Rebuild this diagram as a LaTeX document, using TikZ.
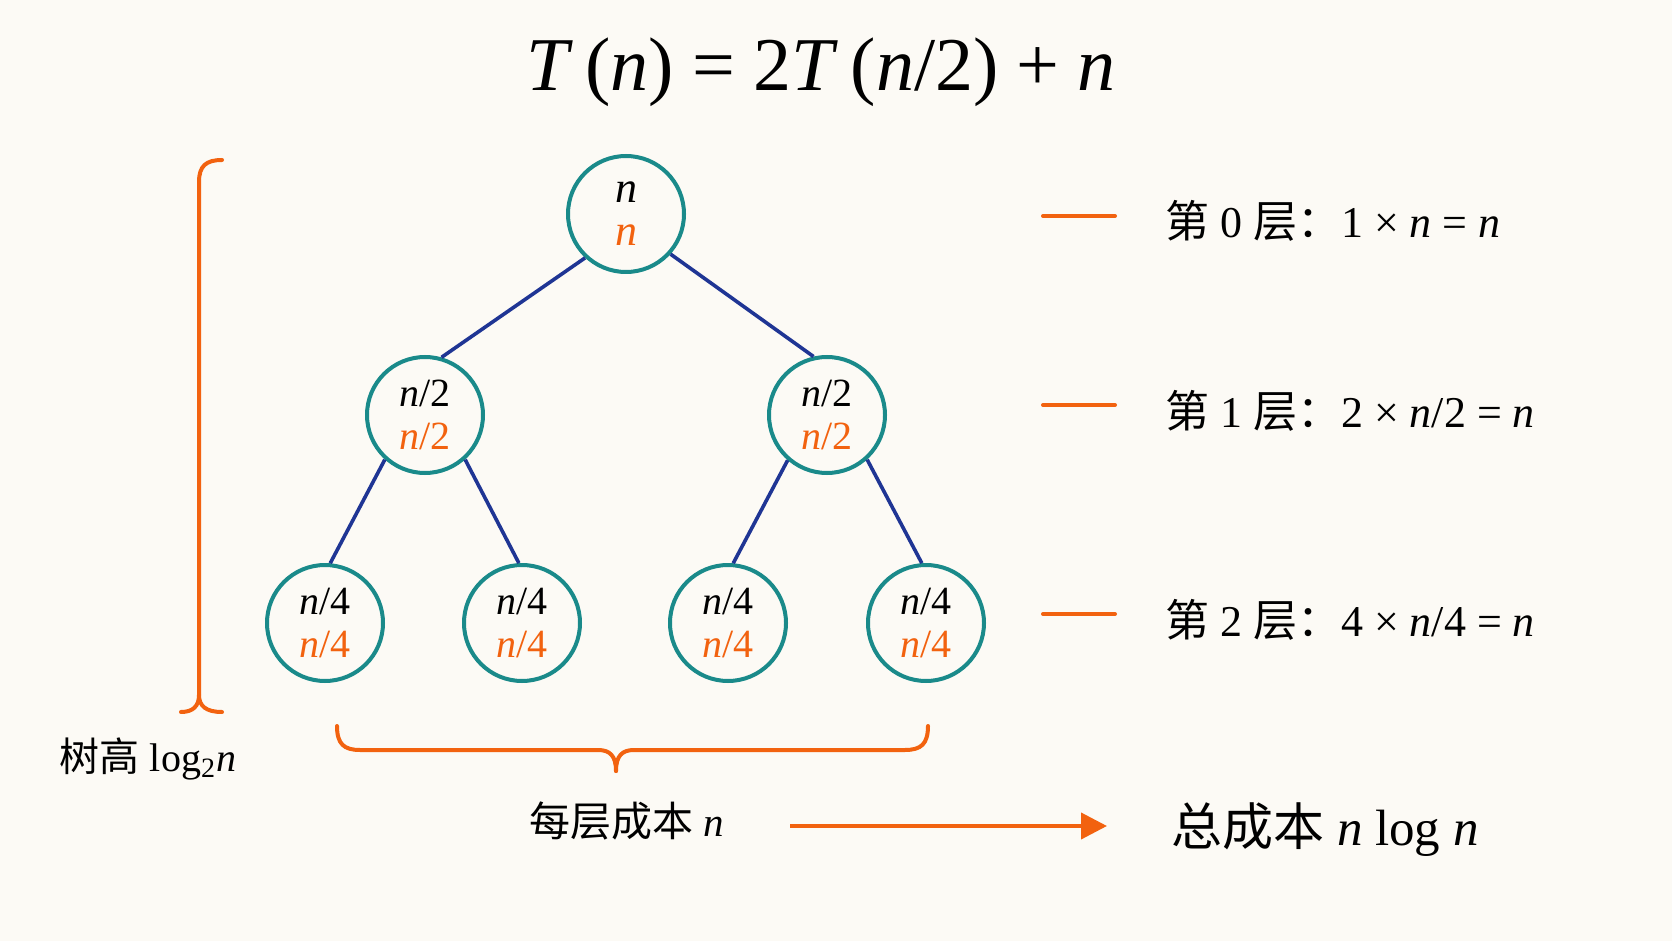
\documentclass[tikz,border=0pt]{standalone}
\usepackage{fontspec}
\setmainfont{Liberation Serif}
\newfontfamily\cjk{Noto Sans CJK SC}
\usetikzlibrary{arrows.meta}
\definecolor{bg}{HTML}{FCFAF5}
\definecolor{org}{HTML}{F2620F}
\definecolor{tealc}{HTML}{1A8A8A}
\definecolor{navy}{HTML}{1F3594}
\newcommand{\vi}[1]{\textit{#1}}
\newcommand{\two}[1]{#1\\\textcolor{org}{#1}}
\newcommand{\msp}{\hspace{0.24em}}
\begin{document}
\begin{tikzpicture}[x=0.5pt,y=-0.5pt,
  tnode/.style={circle,draw=tealc,line width=2pt,minimum size=58pt,inner sep=0pt,
    align=center,font=\fontsize{20}{21.5}\selectfont},
  edge/.style={draw=navy,line width=1.8pt},
  orn/.style={draw=org,line width=2pt,line cap=round},
  lvl/.style={anchor=west,font=\fontsize{22}{24}\selectfont},
  txt/.style={font=\fontsize{20}{22}\selectfont}]
\fill[bg] (0,0) rectangle (1672,941);
\useasboundingbox (0,0) rectangle (1672,941);

% title
\node[font=\fontsize{38}{44}\selectfont] (title) at (821,72)
  {\vi{T}\,(\vi{n})\msp=\msp2\vi{T}\,(\vi{n}/2)\msp+\msp\vi{n}};

% tree
\node[tnode,font=\fontsize{22}{21.5}\selectfont,yshift=0pt] (r) at (626,214)
  {\two{\vi{n}}};
\node[tnode] (a) at (425,415) {\two{\vi{n}/2}};
\node[tnode] (b) at (827,415) {\two{\vi{n}/2}};
\node[tnode] (a1) at (325,623) {\two{\vi{n}/4}};
\node[tnode] (a2) at (522,623) {\two{\vi{n}/4}};
\node[tnode] (b1) at (728,623) {\two{\vi{n}/4}};
\node[tnode] (b2) at (926,623) {\two{\vi{n}/4}};
\draw[edge] (r.227) -- (a.74);
\draw[edge] (r.318) -- (b.103);
\draw[edge] (a.228) -- (a1.85);
\draw[edge] (a.312) -- (a2.93);
\draw[edge] (b.229) -- (b1.85);
\draw[edge] (b.312) -- (b2.94);

% level marks
\coordinate (m0a) at (1043,216); \coordinate (m0b) at (1115,216);
\coordinate (m1a) at (1043,405); \coordinate (m1b) at (1115,405);
\coordinate (m2a) at (1043,614); \coordinate (m2b) at (1115,614);
\draw[orn] (m0a) -- (m0b);
\draw[orn] (m1a) -- (m1b);
\draw[orn] (m2a) -- (m2b);
\node[lvl] (l0) at (1158,221) {{\cjk 第} 0 {\cjk 层：}1 × \vi{n} = \vi{n}};
\node[lvl] (l1) at (1158,411) {{\cjk 第} 1 {\cjk 层：}2 × \vi{n}/2 = \vi{n}};
\node[lvl] (l2) at (1158,620) {{\cjk 第} 2 {\cjk 层：}4 × \vi{n}/4 = \vi{n}};

% left brace
\draw[orn] (222,160) .. controls (206,160) and (199,166) .. (199,182)
  -- (199,695) .. controls (199,706) and (193,712) .. (181,712);
\draw[orn] (199,695) .. controls (199,706) and (206,712) .. (222,712);
\node[txt] (h) at (148,759) {{\cjk 树高} log\textsubscript{2}\vi{n}};

% bottom brace
\draw[orn] (337,726) .. controls (337,744) and (344,750) .. (360,750) -- (598,750)
  .. controls (610,750) and (616,756) .. (616,771);
\draw[orn] (928,726) .. controls (928,744) and (921,750) .. (905,750) -- (634,750)
  .. controls (622,750) and (616,756) .. (616,771);
\node[txt,font=\fontsize{20.5}{22}\selectfont] (per) at (627,821) {{\cjk 每层成本} \vi{n}};

% arrow
\coordinate (s) at (790,826);
\coordinate (e) at (1107,826);
\draw[org,line width=2pt,-{Triangle[length=13pt,width=13pt]}] (s) -- (e);
\node[font=\fontsize{25.5}{28}\selectfont] (tot) at (1325,830) {{\cjk 总成本} \vi{n} log \vi{n}};
\end{tikzpicture}
\end{document}
